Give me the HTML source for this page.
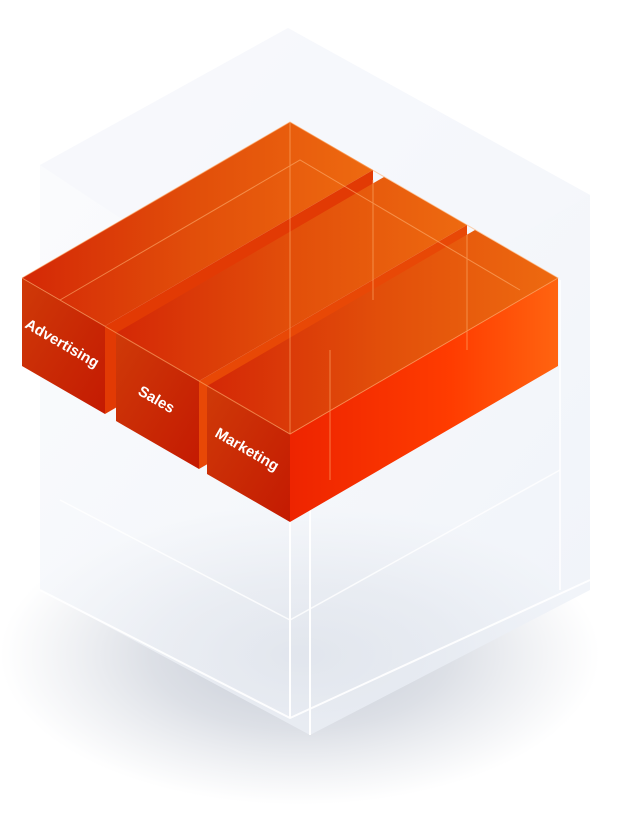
<!DOCTYPE html>
<html><head><meta charset="utf-8"><style>
html,body{margin:0;padding:0;background:#fff;}
svg{display:block}
text{font-family:"Liberation Sans",sans-serif;fill:#fff;font-size:15px;font-weight:bold;}
</style></head><body>
<svg width="623" height="840" viewBox="0 0 623 840" xmlns="http://www.w3.org/2000/svg">
<defs>
<radialGradient id="shadow" cx="0.5" cy="0.5" r="0.5">
<stop offset="0" stop-color="#a9b1c0" stop-opacity="0.7"/>
<stop offset="0.5" stop-color="#b3bac8" stop-opacity="0.45"/>
<stop offset="1" stop-color="#c0c6d2" stop-opacity="0"/></radialGradient>
<linearGradient id="glass" x1="0" y1="0" x2="1" y2="1">
<stop offset="0" stop-color="#fafbfd"/><stop offset="1" stop-color="#e9eef6"/></linearGradient>
<linearGradient id="top" x1="0" y1="0" x2="1" y2="0">
<stop offset="0" stop-color="#d42806"/><stop offset="0.5" stop-color="#e24f0a"/><stop offset="1" stop-color="#ee6a10"/></linearGradient>
<linearGradient id="front" x1="0" y1="0" x2="1" y2="1">
<stop offset="0" stop-color="#cf3a08"/><stop offset="1" stop-color="#c41a02"/></linearGradient>
<linearGradient id="right" x1="0" y1="0" x2="1" y2="0">
<stop offset="0" stop-color="#ee2400"/><stop offset="0.6" stop-color="#ff3c00"/><stop offset="1" stop-color="#ff6410"/></linearGradient>
</defs>
<ellipse cx="300" cy="655" rx="300" ry="150" fill="url(#shadow)"/>
<polygon points="288,28 590,195 590,590 310,735 40,590 40,165" fill="url(#glass)" opacity="0.7"/>
<polygon points="288,28 590,195 320,350 40,165" fill="#f5f7fb" opacity="0.6"/>
<polyline points="40,590 290,718 590,580" fill="none" stroke="#fff" stroke-width="2" opacity="0.9"/>
<line x1="290" y1="520" x2="290" y2="718" stroke="#fff" stroke-width="2"/>
<line x1="310" y1="440" x2="310" y2="735" stroke="#fff" stroke-width="2"/>
<polyline points="60,500 290,620 560,470" fill="none" stroke="#fff" stroke-width="1.5" opacity="0.8"/>
<line x1="560" y1="280" x2="560" y2="590" stroke="#fff" stroke-width="1.5"/>
<polygon points="22,278 290,122 373,170 105,326" fill="url(#top)"/>
<polygon points="105,326 373,170 373,258 105,414" fill="#e23a04"/>
<polygon points="22,278 105,326 105,414 22,366" fill="url(#front)"/>
<polygon points="116,333 384,177 467,225 199,381" fill="url(#top)"/>
<polygon points="199,381 467,225 467,313 199,469" fill="#e84806"/>
<polygon points="116,333 199,381 199,469 116,421" fill="url(#front)"/>
<polygon points="207,386 475,230 558,278 290,434" fill="url(#top)"/>
<polygon points="290,434 558,278 558,366 290,522" fill="url(#right)"/>
<polygon points="207,386 290,434 290,522 207,474" fill="url(#front)"/>
<g stroke="#ffb070" stroke-width="1" opacity="0.6" fill="none">
<polyline points="22,278 290,122 558,278 290,434 22,278"/>
<line x1="290" y1="122" x2="290" y2="434"/>
<line x1="373" y1="180" x2="373" y2="300"/>
<line x1="467" y1="235" x2="467" y2="350"/>
<polyline points="60,300 300,160 520,290"/>
<polyline points="330,350 330,480"/>
</g>
<text transform="translate(24,327) rotate(30)">Advertising</text>
<text transform="translate(137,394) rotate(30)">Sales</text>
<text transform="translate(214,436) rotate(30)">Marketing</text>
</svg>
</body></html>
